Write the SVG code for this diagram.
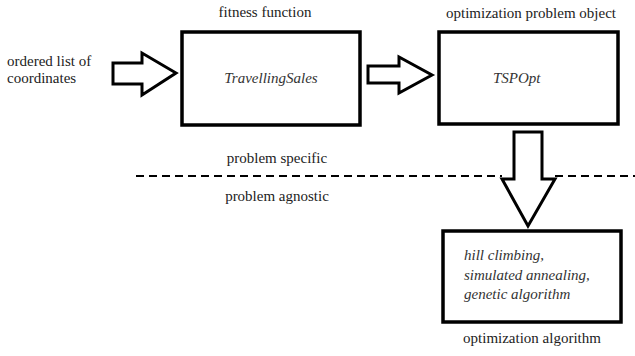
<svg xmlns="http://www.w3.org/2000/svg" width="635" height="356" viewBox="0 0 635 356">
<style>
.t{font-size:15px;fill:#222}
.i{font-style:italic;fill:#333}
.box{fill:#fff;stroke:#000;stroke-width:3.5}
.arr{fill:#fff;stroke:#000;stroke-width:3;stroke-linejoin:miter}
.dash{stroke:#000;stroke-width:2;stroke-dasharray:8 5;fill:none}
</style>
<rect width="635" height="356" fill="#fff"/>
<g id="connectors">
<path class="arr" d="M113,63 H142 V53 L176,73 L142,95 V84 H113 Z"/>
<path class="arr" d="M368,66 H399 V57 L432,75 L399,93 V83 H368 Z"/>
<path class="arr" d="M514,132 H542 V179 H555 L528,226 L502,179 H514 Z"/>
</g>
<line class="dash" x1="136" y1="176" x2="502" y2="176"/>
<line class="dash" x1="555" y1="176" x2="635" y2="176"/>
<g font-family="Liberation Serif, Times New Roman, DejaVu Serif, serif">
<text class="t" x="7" y="66">ordered list of</text>
<text class="t" x="7" y="83">coordinates</text>
<g id="fitness">
<text class="t" x="265" y="17" text-anchor="middle">fitness function</text>
<rect class="box" x="182" y="32" width="178" height="93"/>
<text class="t i" x="271" y="83" text-anchor="middle">TravellingSales</text>
</g>
<g id="tspopt">
<text class="t" x="531" y="18" text-anchor="middle">optimization problem object</text>
<rect class="box" x="439" y="32" width="179" height="92"/>
<text class="t i" x="493" y="83">TSPOpt</text>
</g>
<text class="t" x="277" y="163" text-anchor="middle">problem specific</text>
<text class="t" x="277" y="201" text-anchor="middle">problem agnostic</text>
<g id="algorithm">
<rect class="box" x="443" y="231" width="178" height="91"/>
<text class="t i" x="464" y="260">hill climbing,</text>
<text class="t i" x="464" y="280">simulated annealing,</text>
<text class="t i" x="464" y="299">genetic algorithm</text>
<text class="t" x="532" y="343" text-anchor="middle">optimization algorithm</text>
</g>
</g>
</svg>
